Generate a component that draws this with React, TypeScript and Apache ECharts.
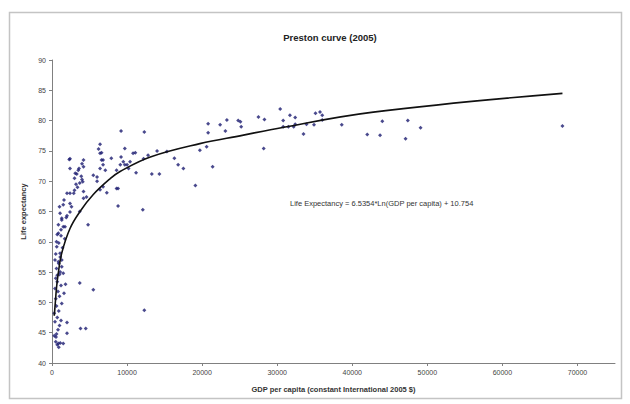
import React, { useEffect, useRef } from "react";
import * as echarts from "echarts";

const title = "Preston curve (2005)";
const xName = "GDP per capita (constant International 2005 $)";
const yName = "Life expectancy";
const equation = "Life Expectancy = 6.5354*Ln(GDP per capita) + 10.754";

// [GDP per capita, life expectancy]
const countries: [number, number][] = [
  [300, 44.5], [500, 43.5], [700, 43.0], [900, 42.6], [1100, 43.3], [1500, 43.2],
  [600, 44.8], [800, 45.5], [1000, 46.2], [400, 46.8], [700, 47.5], [1200, 47.0],
  [2000, 46.7], [300, 48.2], [900, 48.6], [600, 49.4], [1300, 49.8], [500, 50.6],
  [1000, 51.0], [800, 51.8], [1600, 51.5], [400, 52.3], [1200, 52.8], [700, 53.4],
  [1800, 53.0], [500, 54.0], [1000, 54.6], [1500, 54.8], [600, 55.6], [1300, 55.9],
  [900, 56.4], [400, 57.0], [1100, 57.5], [850, 56.7], [630, 59.2], [1070, 58.1],
  [1400, 59.0], [1700, 60.5], [850, 61.4], [1200, 61.0], [1730, 62.5], [850, 62.8],
  [1500, 62.5], [1300, 63.9], [1070, 64.7], [2000, 64.3], [2400, 64.9], [1600, 66.9],
  [2000, 68.0], [2400, 68.0], [2900, 68.0], [1000, 65.8], [2600, 65.8], [2400, 72.1],
  [2400, 73.7], [2300, 73.6], [3700, 69.7], [3000, 70.5], [3300, 71.2], [3600, 72.1],
  [4200, 72.4], [3500, 71.8], [3900, 70.8], [4100, 69.9], [3200, 69.5], [4200, 73.5],
  [4200, 67.2], [3700, 65.0], [4800, 62.8], [3700, 53.2], [5500, 52.1], [3800, 45.7],
  [4500, 45.7], [12300, 48.7], [5500, 71.0], [6000, 70.7], [6400, 72.1], [7100, 71.8],
  [6400, 76.1], [6600, 74.7], [6200, 75.3], [6800, 73.5], [7300, 68.1], [6400, 68.6],
  [8800, 68.8], [8800, 65.9], [12100, 65.3], [7900, 73.8], [8600, 71.8], [9100, 72.7],
  [10000, 72.7], [10200, 72.1], [9500, 73.2], [10400, 73.2], [9200, 74.0], [9700, 75.4],
  [9200, 78.3], [12300, 78.1], [11100, 74.7], [12200, 73.7], [12800, 74.3], [14000, 75.0],
  [15300, 74.9], [16300, 73.8], [16800, 72.7], [17500, 72.1], [19100, 69.3], [19700, 75.1],
  [20600, 75.7], [20800, 79.5], [20800, 78.0], [21400, 72.4], [22400, 79.3], [23300, 80.1],
  [23100, 78.3], [24800, 80.0], [25200, 79.0], [25100, 79.8], [27500, 80.6], [28300, 80.2],
  [28200, 75.4], [13300, 71.2], [14300, 71.2], [11200, 71.4], [30400, 81.9], [30800, 80.0],
  [31700, 80.9], [32400, 80.5], [30800, 79.0], [31500, 79.0], [32200, 79.0], [32400, 79.4],
  [33500, 77.8], [33900, 79.4], [34900, 79.3], [35100, 81.2], [35700, 81.4], [36000, 80.9],
  [36000, 80.1], [38600, 79.3], [42000, 77.7], [43700, 77.6], [44000, 79.9], [47400, 80.0],
  [47100, 77.0], [49100, 78.8], [68000, 79.1],
  [4000, 72.9], [6600, 73.5], [6800, 72.7], [9700, 72.7], [10800, 74.6], [6400, 74.6],
  [3000, 68.5], [3400, 69.0], [4000, 70.3], [3100, 71.3], [4200, 68.3], [4600, 67.4],
  [6000, 70.0], [6800, 69.1], [8600, 68.8], [1500, 66.1], [2400, 66.3], [1300, 63.6],
  [1900, 64.0], [700, 61.2], [1200, 62.0], [600, 60.0], [900, 59.8], [500, 58.0],
  [1100, 55.0], [700, 54.5], [1300, 57.0], [2000, 44.9], [840, 43.2], [530, 44.3],
];

const trendX = [300, 400, 600, 800, 1290, 2400, 3730, 5500, 7730, 9070, 13100, 19700, 25500, 29100, 42800, 68000];
const trendY = [47.8, 49.3, 52.4, 54.5, 58.1, 62.2, 65.0, 67.8, 70.4, 71.6, 74.0, 76.2, 77.6, 78.5, 81.4, 84.5];

const xTicks = { min: 0, max: 75000, interval: 10000 };
const yTicks = { min: 40, max: 90, interval: 5 };

const FONT = "Liberation Sans";

export default function App() {
  const ref = useRef<HTMLDivElement>(null);
  useEffect(() => {
    document.body.style.margin = "0";
    if (!ref.current) return;
    const chart = echarts.init(ref.current, null, { renderer: "svg" });
    chart.setOption({
      animation: false,
      backgroundColor: "#ffffff",
      textStyle: { fontFamily: FONT },
      title: {
        text: title,
        left: 325,
        top: 27,
        textAlign: "center",
        textStyle: { fontSize: 9.5, fontWeight: "bold", color: "#222", fontFamily: FONT },
      },
      graphic: [
        {
          type: "rect",
          shape: { x: 9.5, y: 12.5, width: 612, height: 386 },
          style: { fill: "none", stroke: "#c4c4c4", lineWidth: 1.5 },
          silent: true,
        },
        {
          type: "text",
          x: 290,
          y: 203,
          style: {
            text: equation,
            fontSize: 7.5,
            fill: "#333",
            fontFamily: FONT,
            verticalAlign: "middle",
          },
        },
      ],
      grid: { left: 52, right: 15, top: 60, bottom: 41, containLabel: false },
      xAxis: {
        type: "value",
        min: xTicks.min,
        max: xTicks.max,
        interval: xTicks.interval,
        name: xName,
        nameLocation: "middle",
        nameGap: 22,
        nameTextStyle: { fontSize: 7.5, fontWeight: "bold", color: "#333", fontFamily: FONT },
        axisLine: { lineStyle: { color: "#808080", width: 1 } },
        axisTick: { show: true, length: 3, lineStyle: { color: "#808080" } },
        axisLabel: {
          fontSize: 7,
          color: "#444",
          margin: 6,
          showMaxLabel: false,
          fontFamily: FONT,
          formatter: (v: number) => String(v),
        },
        splitLine: { show: false },
      },
      yAxis: {
        type: "value",
        min: yTicks.min,
        max: yTicks.max,
        interval: yTicks.interval,
        name: yName,
        nameLocation: "middle",
        nameGap: 24,
        nameRotate: 90,
        nameTextStyle: { fontSize: 7.5, fontWeight: "bold", color: "#333", fontFamily: FONT },
        axisLine: { show: true, lineStyle: { color: "#808080", width: 1 } },
        axisTick: { show: true, length: 3, lineStyle: { color: "#808080" } },
        axisLabel: { fontSize: 7, color: "#444", margin: 6, fontFamily: FONT, formatter: (v: number) => String(v) },
        splitLine: { show: false },
      },
      series: [
        {
          type: "scatter",
          data: countries,
          symbol: "diamond",
          symbolSize: 4,
          itemStyle: { color: "#1c1c70" },
          z: 3,
        },
        {
          type: "line",
          data: trendX.map((x, i) => [x, trendY[i]]),
          smooth: 0.4,
          showSymbol: false,
          symbol: "none",
          lineStyle: { color: "#111", width: 1.6 },
          z: 4,
        },
      ],
    });
    return () => chart.dispose();
  }, []);
  return <div ref={ref} style={{ width: 630, height: 404 }} />;
}
